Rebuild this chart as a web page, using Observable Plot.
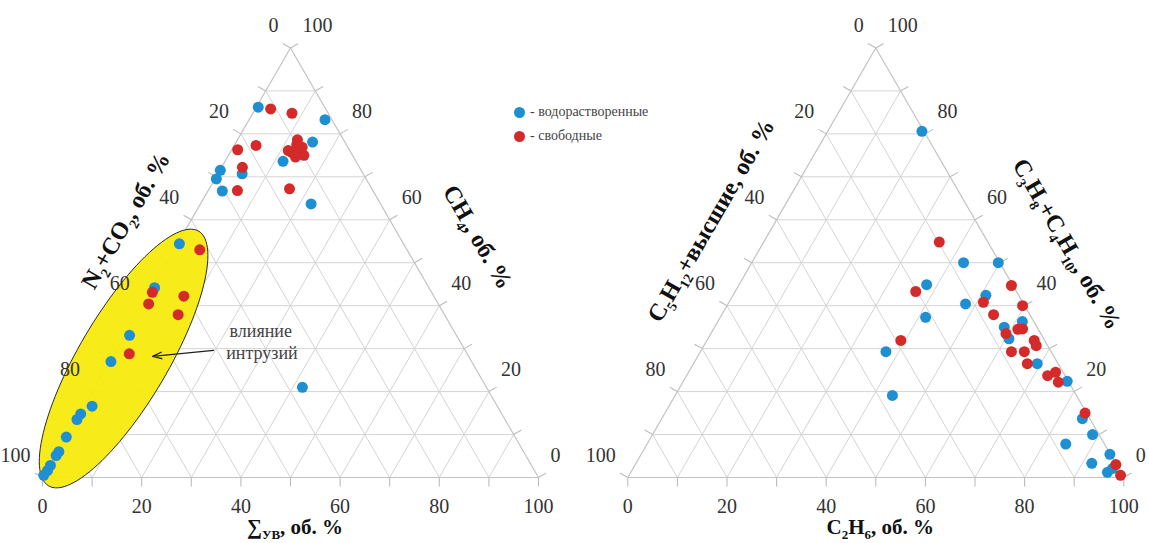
<!DOCTYPE html>
<html>
<head>
<meta charset="utf-8">
<script src="https://cdn.jsdelivr.net/npm/d3@7"></script>
<script src="https://cdn.jsdelivr.net/npm/@observablehq/plot@0.6"></script>
<style>
  body { margin: 0; background: #fff; }
  #wrap { position: relative; width: 1149px; height: 543px; overflow: hidden; }
  #wrap svg, #wrap svg text, #wrap svg tspan { font-family: "Liberation Serif", "Times New Roman", serif !important; }
  .leg { position: absolute; left: 514px; font-family: "Liberation Serif", "Times New Roman", serif;
         font-size: 14px; color: #444; display: flex; align-items: center; height: 14px; white-space: nowrap; }
  .leg i { display: inline-block; width: 11px; height: 11px; border-radius: 50%; margin-right: 5px; }
</style>
</head>
<body>
<div id="wrap"></div>
<script>
// ---------- DATA (ternary compositions, %) ----------
// Left diagram: [N2+CO2, ΣУВ, CH4]
const leftDissolved = [
  [13.4, 0.4, 86.2], [1.4, 15.3, 83.3], [6.5, 15.4, 78.1], [14.7, 11.7, 73.6],
  [24.4, 4.9, 70.7], [28.4, 0.1, 71.5], [30.2, 0.3, 69.5], [30.4, 2.9, 66.7],
  [14.0, 22.3, 63.7], [45.2, 0.4, 54.4], [55.3, 0.5, 44.2], [65.9, 1.0, 33.1],
  [72.7, 0.3, 27.0], [81.7, 1.7, 16.6], [84.9, 0.3, 14.8], [86.3, 0.2, 13.5],
  [90.5, 0.1, 9.4], [93.7, 0.3, 6.0], [94.7, 0.2, 5.1], [97.0, 0.2, 2.8],
  [98.2, 0.2, 1.6], [99.5, 0.0, 0.5], [37.1, 41.9, 21.0]
];
const leftFree = [
  [11.1, 3.1, 85.8], [7.3, 7.9, 84.8], [22.5, 1.2, 76.3], [18.3, 4.4, 77.3],
  [9.3, 12.1, 78.6], [11.9, 12.4, 75.7], [10.1, 13.4, 76.5], [9.8, 15.2, 75.0],
  [11.7, 13.7, 74.6], [9.2, 13.9, 76.9], [12.4, 11.5, 76.1], [10.0, 12.5, 77.5],
  [23.6, 4.2, 72.2], [27.3, 5.9, 66.8], [16.6, 16.2, 67.2], [41.8, 5.2, 53.0],
  [56.3, 0.6, 43.1], [58.4, 1.2, 40.4], [50.4, 7.4, 42.2], [53.7, 8.4, 37.9],
  [68.1, 3.1, 28.8]
];
// Right diagram: [C5H12+высшие, C2H6, C3H8+C4H10]
const rightDissolved = [
  [0.4, 19.0, 80.6], [7.3, 42.7, 50.0], [0.3, 49.7, 50.0], [17.3, 37.8, 44.9],
  [6.6, 51.0, 42.4], [11.7, 47.9, 40.4], [21.3, 41.4, 37.3], [2.3, 61.4, 36.3],
  [6.6, 58.4, 35.0], [7.0, 60.7, 32.3], [33.3, 37.4, 29.3], [37.1, 43.8, 19.1],
  [4.2, 69.3, 26.5], [0.2, 77.4, 22.4], [1.5, 84.8, 13.7], [1.3, 88.7, 10.0],
  [7.8, 84.4, 7.8], [0.1, 94.5, 5.4], [4.8, 91.9, 3.3], [2.7, 96.1, 1.2],
  [1.2, 96.7, 2.1]
];
const rightFree = [
  [9.8, 35.4, 54.8], [20.3, 36.4, 43.3], [0.3, 55.0, 44.7], [7.9, 51.3, 40.8],
  [0.4, 59.6, 40.0], [7.3, 54.8, 37.9], [3.1, 62.3, 34.6], [4.1, 61.4, 34.5],
  [7.0, 59.5, 33.5], [29.0, 39.1, 31.9], [8.0, 62.7, 29.3], [5.4, 65.3, 29.3],
  [6.2, 67.3, 26.5], [2.1, 66.0, 31.9], [2.3, 67.0, 30.7], [3.5, 72.8, 23.7],
  [1.5, 74.0, 24.5], [2.1, 75.7, 22.2], [0.3, 84.7, 15.0], [0.1, 96.9, 3.0],
  [0.4, 99.1, 0.5]
];
const tickLabels = [0, 20, 40, 60, 80, 100];
const tickValues = [0, 10, 20, 30, 40, 50, 60, 70, 80, 90, 100];
const gridLevels = [10, 20, 30, 40, 50, 60, 70, 80, 90];
const seriesNames = ["- водорастворенные", "- свободные"];
const seriesColors = ["#1f8fd3", "#d42a2a"];
const noteLines = ["влияние", "интрузий"];

// ---------- LAYOUT ----------
const W = 1149, H = 543;
const K = 4.96;               // px per percent
const X0 = -42 / K;            // data x at pixel 0
const YB = (477 - H) / K;      // data y at bottom pixel
const S3 = Math.sqrt(3) / 2;
const OX = {left: 0, right: 118};  // horizontal offset of each triangle (data units)

function P(bl, br, ap, ox) {
  const t = bl + br + ap;
  return {x: ox + 100 * (br + ap / 2) / t, y: 100 * S3 * ap / t};
}

const grid = [], edges = [], ticks = [];
const labBottom = [], labLeft = [], labRight = [];
const TL = 1.8;
for (const ox of [OX.left, OX.right]) {
  for (const k of gridLevels) {
    for (const [a, b] of [
      [P(100 - k, 0, k, ox), P(0, 100 - k, k, ox)],
      [P(100 - k, k, 0, ox), P(0, k, 100 - k, ox)],
      [P(k, 100 - k, 0, ox), P(k, 0, 100 - k, ox)]
    ]) grid.push({x1: a.x, y1: a.y, x2: b.x, y2: b.y});
  }
  for (const [a, b] of [[P(100,0,0,ox), P(0,100,0,ox)], [P(100,0,0,ox), P(0,0,100,ox)], [P(0,100,0,ox), P(0,0,100,ox)]])
    edges.push({x1: a.x, y1: a.y, x2: b.x, y2: b.y});
  for (const t of tickValues) {
    let p = P(100 - t, t, 0, ox); ticks.push({x1: p.x, y1: p.y, x2: p.x, y2: p.y - TL});
    p = P(t, 0, 100 - t, ox); ticks.push({x1: p.x, y1: p.y, x2: p.x - S3 * TL, y2: p.y + 0.5 * TL});
    p = P(0, 100 - t, t, ox); ticks.push({x1: p.x, y1: p.y, x2: p.x + S3 * TL, y2: p.y + 0.5 * TL});
  }
  for (const t of tickLabels) {
    labBottom.push({...P(100 - t, t, 0, ox), t});
    labLeft.push({...P(t, 0, 100 - t, ox), t});
    labRight.push({...P(0, 100 - t, t, ox), t});
  }
}

const toPts = (arr, ox) => arr.map(([a, b, c]) => P(a, b, c, ox));

// ellipse annotation ("влияние интрузий") – centre given as composition
const ell = {center: [69.8, 2.5, 27.7], a: 29.8, b: 9.0, angle: 59.5};
const ec = P(...ell.center, OX.left);
const th = ell.angle * Math.PI / 180;
const ellipse = d3.range(0, 360, 3).map(d => {
  const t = d * Math.PI / 180;
  return {x: ec.x + ell.a * Math.cos(t) * Math.cos(th) - ell.b * Math.sin(t) * Math.sin(th),
          y: ec.y + ell.a * Math.cos(t) * Math.sin(th) + ell.b * Math.sin(t) * Math.cos(th)};
});
const arrowTail = P(50.7, 19.7, 29.6, OX.left), arrowHead = P(63.7, 8.1, 28.2, OX.left);
const noteAt = [P(39.0, 27.0, 34.0, OX.left), P(41.3, 29.8, 28.9, OX.left)].map((p, i) => ({...p, text: noteLines[i]}));

const font = '"Liberation Serif", "Times New Roman", serif';
const plot = Plot.plot({
  width: W, height: H, margin: 0,
  x: {domain: [X0, X0 + W / K], range: [0, W], axis: null},
  y: {domain: [YB, YB + H / K], range: [H, 0], axis: null},
  style: {background: "#fff", overflow: "visible"},
  marks: [
    Plot.link(grid, {x1: "x1", y1: "y1", x2: "x2", y2: "y2", stroke: "#d4d4d4", strokeWidth: 1}),
    Plot.link(ticks, {x1: "x1", y1: "y1", x2: "x2", y2: "y2", stroke: "#bcbcbc", strokeWidth: 1.1}),
    Plot.link(edges, {x1: "x1", y1: "y1", x2: "x2", y2: "y2", stroke: "#c2c2c2", strokeWidth: 1.2}),
    Plot.line(ellipse, {x: "x", y: "y", curve: "linear-closed", fill: "#f8ea0e", fillOpacity: 0.95, stroke: "#2a2a2a", strokeWidth: 1}),
    Plot.dot(toPts(leftDissolved, OX.left), {x: "x", y: "y", r: 5.5, fill: seriesColors[0]}),
    Plot.dot(toPts(rightDissolved, OX.right), {x: "x", y: "y", r: 5.5, fill: seriesColors[0]}),
    Plot.dot(toPts(leftFree, OX.left), {x: "x", y: "y", r: 5.5, fill: seriesColors[1]}),
    Plot.dot(toPts(rightFree, OX.right), {x: "x", y: "y", r: 5.5, fill: seriesColors[1]}),
    Plot.arrow([{x1: arrowTail.x, y1: arrowTail.y, x2: arrowHead.x, y2: arrowHead.y}],
      {x1: "x1", y1: "y1", x2: "x2", y2: "y2", stroke: "#222", strokeWidth: 1.3, headLength: 11, headAngle: 40}),
    Plot.text(noteAt, {x: "x", y: "y", text: "text", fontSize: 18, fill: "#444", textAnchor: "middle", fontFamily: font}),
    Plot.text(labBottom, {x: "x", y: "y", text: "t", dy: 29, fontSize: 20, fill: "#333", textAnchor: "middle", fontFamily: font}),
    Plot.text(labLeft, {x: "x", y: "y", text: "t", dx: -12, dy: -22, fontSize: 20, fill: "#333", textAnchor: "end", fontFamily: font}),
    Plot.text(labRight, {x: "x", y: "y", text: "t", dx: 12, dy: -22, fontSize: 20, fill: "#333", textAnchor: "start", fontFamily: font})
  ]
});

const wrap = document.getElementById("wrap");
wrap.appendChild(plot);

// ---------- axis titles (with subscripts) ----------
const sx = d3.scaleLinear().domain([X0, X0 + W / K]).range([0, W]);
const sy = d3.scaleLinear().domain([YB, YB + H / K]).range([H, 0]);
const svgNode = plot.tagName.toLowerCase() === "svg" ? plot : plot.querySelector("svg");
const svg = d3.select(svgNode);

function title(parts, cx, cy, angle, size) {
  const t = svg.append("text")
    .attr("transform", `translate(${cx},${cy}) rotate(${angle})`)
    .attr("text-anchor", "middle").attr("dy", "0.35em")
    .attr("font-family", font).attr("font-weight", "bold").attr("font-size", size).attr("fill", "#111");
  let shift = 0;
  const sub = Math.round(size * 0.6), off = Math.round(size * 0.25);
  for (const [s, isSub] of parts) {
    const ts = t.append("tspan").text(s);
    if (isSub) { ts.attr("font-size", sub).attr("dy", off - shift); shift = off; }
    else { ts.attr("dy", -shift); shift = 0; }
  }
}
function edgeTitles(ox, leftParts, rightParts, bottomParts, eRight) {
  const bl = P(100, 0, 0, ox), br = P(0, 100, 0, ox), ap = P(0, 0, 100, ox);
  const px = p => [sx(p.x), sy(p.y)];
  const [blx, bly] = px(bl), [brx, bry] = px(br), [apx, apy] = px(ap);
  let mx = (blx + apx) / 2, my = (bly + apy) / 2;
  title(leftParts, mx - 0.866 * 48 + 0.5 * 16, my - 0.5 * 48 - 0.866 * 16, -60, 24);
  mx = (brx + apx) / 2; my = (bry + apy) / 2;
  title(rightParts, mx + 0.866 * 60 + 0.5 * eRight, my - 0.5 * 60 + 0.866 * eRight, 60, 24);
  title(bottomParts, (blx + brx) / 2 + 5, bly + 57, 0, 21);
}
edgeTitles(OX.left,
  [["N"], ["2", 1], ["+CO"], ["2", 1], [", об. %"]],
  [["CH"], ["4", 1], [", об. %"]],
  [["∑"], ["УВ", 1], [", об. %"]], 10);
edgeTitles(OX.right,
  [["C"], ["5", 1], ["H"], ["12", 1], ["+высшие, об. %"]],
  [["C"], ["3", 1], ["H"], ["8", 1], ["+C"], ["4", 1], ["H"], ["10", 1], [", об. %"]],
  [["C"], ["2", 1], ["H"], ["6", 1], [", об. %"]], 18);

// ---------- legend ----------
seriesNames.forEach((name, i) => {
  const d = document.createElement("div");
  d.className = "leg";
  d.style.top = (105 + i * 24) + "px";
  d.innerHTML = `<i style="background:${seriesColors[i]}"></i>${name}`;
  wrap.appendChild(d);
});
</script>
</body>
</html>
